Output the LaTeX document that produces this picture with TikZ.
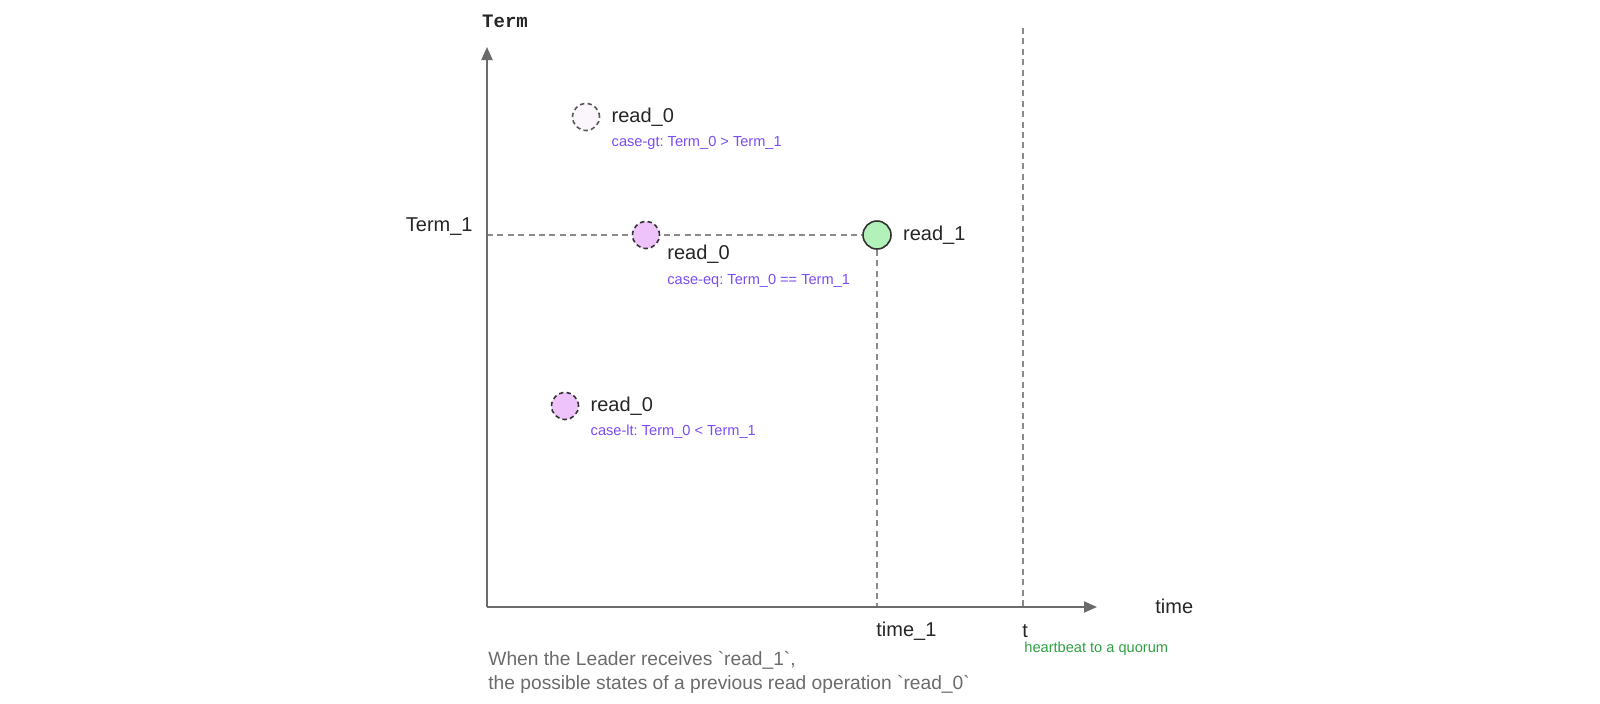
\documentclass[tikz,border=0pt]{standalone}
\usepackage{fontspec}
\setmainfont{Liberation Sans}
\setmonofont{Liberation Mono}
\usetikzlibrary{arrows.meta,positioning,backgrounds}

\definecolor{achsgrau}{HTML}{6B6B6B}
\definecolor{strichgrau}{HTML}{8A8A8A}
\definecolor{falllila}{HTML}{7A4CF5}
\definecolor{taktgruen}{HTML}{2EA043}
\definecolor{rosa}{HTML}{EEC2FA}
\definecolor{blass}{HTML}{FAF6FC}
\definecolor{hellgruen}{HTML}{B2F1B9}

\begin{document}
\frenchspacing
\begin{tikzpicture}[x=0.5pt, y=-0.5pt,
	achse/.style={draw=achsgrau, line width=1pt, -{Triangle[length=6.5pt,width=5.5pt]}},
	strich/.style={draw=strichgrau, line width=0.75pt, dash pattern=on 3pt off 2.2pt},
	punkt/.style={circle, minimum size=13.5pt, inner sep=0pt, draw=black!80, line width=0.8pt, dash pattern=on 2.2pt off 1.6pt},
	etikett/.style={inner sep=0pt, font=\fontsize{10}{12}\selectfont, text=black!85},
	fall/.style={inner sep=0pt, anchor=west, font=\fontsize{7.3}{8.5}\selectfont, text=falllila}]
		\useasboundingbox (0,0) rectangle (1600,703);

		%Koordinatensystem
		\coordinate (O) at (487,607);
		\coordinate (yend) at (487,47);
		\coordinate (xend) at (1097,607);
		\draw[achse] (O) -- (yend);
		\draw[achse] (O) -- (xend);
		\node[font=\ttfamily\bfseries\fontsize{9.5}{11}\selectfont, text=black!85] (term) at (505,21) {Term};
		\node[etikett, anchor=west] (time) at (1155,606) {time};
		\coordinate (t1) at (487,235);

		%Punkte
		\node[punkt, fill=blass, draw=black!65] (gt) at (586,117) {};
		\node[etikett, right=5.5pt of gt] (gtname) {read\_0};
		\node[fall] (gtfall) at ([yshift=-13pt]gtname.west) {case-gt: Term\_0 > Term\_1};

		\node[punkt, fill=rosa] (eq) at (646,235) {};
		\node[etikett, anchor=west] (eqname) at (667,254) {read\_0};
		\node[fall] (eqfall) at ([yshift=-13.5pt]eqname.west) {case-eq: Term\_0 == Term\_1};

		\node[punkt, fill=rosa] (lt) at (565,406) {};
		\node[etikett, right=5.5pt of lt] (ltname) {read\_0};
		\node[fall] (ltfall) at ([yshift=-13pt]ltname.west) {case-lt: Term\_0 < Term\_1};

		\node[punkt, solid, fill=hellgruen, minimum size=14pt] (eins) at (877,235) {};
		\node[etikett, right=5.5pt of eins] (einsname) {read\_1};

		%gestrichelte Linien
		\coordinate (time1) at (877,607);
		\coordinate (ttop) at (1023,28);
		\coordinate (tunten) at (1023,607);
		\begin{scope}[on background layer]
			\draw[strich] (t1) -- (eins.west);
			\draw[strich] (eins.south) -- (time1);
			\draw[strich] (ttop) -- (tunten);
		\end{scope}

		%Beschriftung
		\node[etikett, anchor=east] (termeins) at (473,227) {Term\_1};
		\node[etikett, anchor=west] (zeit) at (876,631) {time\_1};
		\node[etikett, anchor=west] (tlabel) at (1022,631) {t};
		\node[fall, text=taktgruen] (takt) at (1024,649) {heartbeat to a quorum};
		\node[inner sep=0pt, anchor=north west, align=left, text=achsgrau, font=\fontsize{9.6}{11.8}\selectfont] (text) at (488,651)
			{When the Leader receives \textasciigrave read\_1\textasciigrave,\\the possible states of a previous read operation \textasciigrave read\_0\textasciigrave};
\end{tikzpicture}
\end{document}
